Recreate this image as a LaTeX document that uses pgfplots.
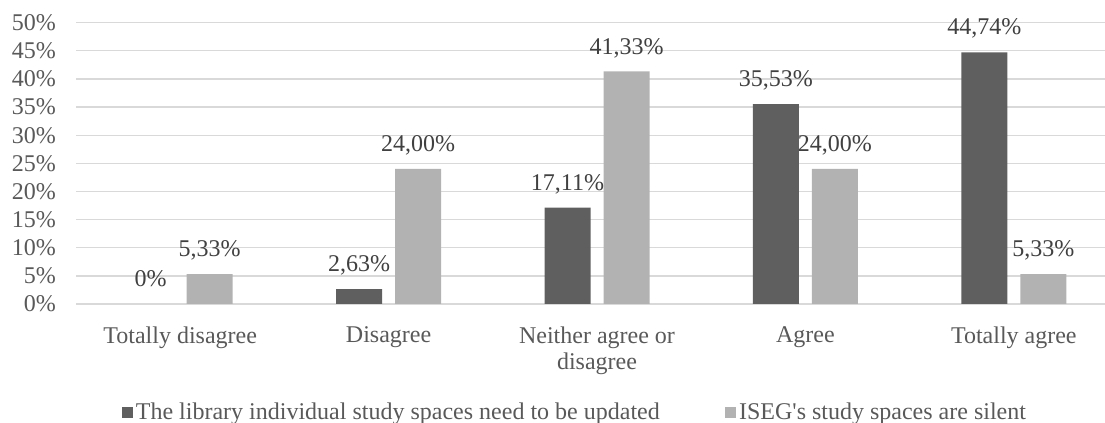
\documentclass[border=0pt]{standalone}
\usepackage{fontspec}
\setmainfont{Liberation Serif}
\usepackage{pgfplots}
\pgfplotsset{compat=1.18}
\usepackage{pgfplotstable}

\definecolor{darkbar}{HTML}{5F5F5F}
\definecolor{lightbar}{HTML}{B2B2B2}
\definecolor{gridgray}{HTML}{D9D9D9}
\definecolor{labelgray}{HTML}{595959}
\definecolor{valgray}{HTML}{404040}

% x: category index, a/b: percentages, alab/blab: printed values
\pgfplotstableread{
x a     alab  b     blab
1 2.63  2,63  24.00 24,00
2 17.11 17,11 41.33 41,33
3 35.53 35,53 24.00 24,00
4 44.74 44,74 5.33  5,33
}\survey

\begin{document}
\begin{tikzpicture}[font=\fontsize{18}{19.5}\selectfont]
\path[use as bounding box, clip] (0,0) rectangle (828.75pt,317.25pt);
\begin{axis}[
  at={(57pt,89.25pt)}, anchor=south west,
  scale only axis, width=781.5pt, height=211pt,
  xmin=-0.5, xmax=4.5, ymin=0, ymax=50,
  ybar=9.75pt, bar width=34.5pt,
  axis line style={draw=none},
  tick style={draw=none},
  ymajorgrids,
  major grid style={gridgray, line width=1pt},
  ytick={0,5,...,50},
  yticklabel={\pgfmathprintnumber{\tick}\%},
  /pgf/number format/assume math mode=true,
  yticklabel style={color=labelgray, xshift=-11.5pt},
  xtick={0,1,2,3,4},
  xticklabels={Totally disagree, Disagree, {Neither agree or\\disagree}, Agree, Totally agree},
  xticklabel style={align=center, color=labelgray, anchor=north, yshift=-9.5pt},
  nodes near coords={\pgfplotspointmeta\%},
  point meta=explicit symbolic,
  every node near coord/.append style={color=valgray, text depth=0pt, inner sep=0pt, yshift=12.75pt},
  legend columns=2,
  legend style={at={(axis description cs:0.0403,-0.384)}, anchor=west,
    draw=none, fill=none, text=labelgray,
    /tikz/every even column/.append style={column sep=47.25pt}},
]
% "Totally disagree" has no answers for the first statement: label only
\addplot[draw=none, fill=none, bar shift=-22.125pt, forget plot]
  coordinates {(0,0) [0]};
\addplot[fill=darkbar, draw=none,
  legend image code/.code={\fill[darkbar] (0pt,-4.125pt) rectangle (8.25pt,4.125pt);}]
  table[x=x, y=a, meta=alab] {\survey};
\addplot[fill=lightbar, draw=none,
  legend image code/.code={\fill[lightbar] (0pt,-4.125pt) rectangle (8.25pt,4.125pt);}]
  coordinates {(0,5.33) [5,33] (1,24.00) [24,00] (2,41.33) [41,33] (3,24.00) [24,00] (4,5.33) [5,33]};
\legend{The library individual study spaces need to be updated, ISEG\textquotesingle s study spaces are silent}
\end{axis}
\end{tikzpicture}
\end{document}
